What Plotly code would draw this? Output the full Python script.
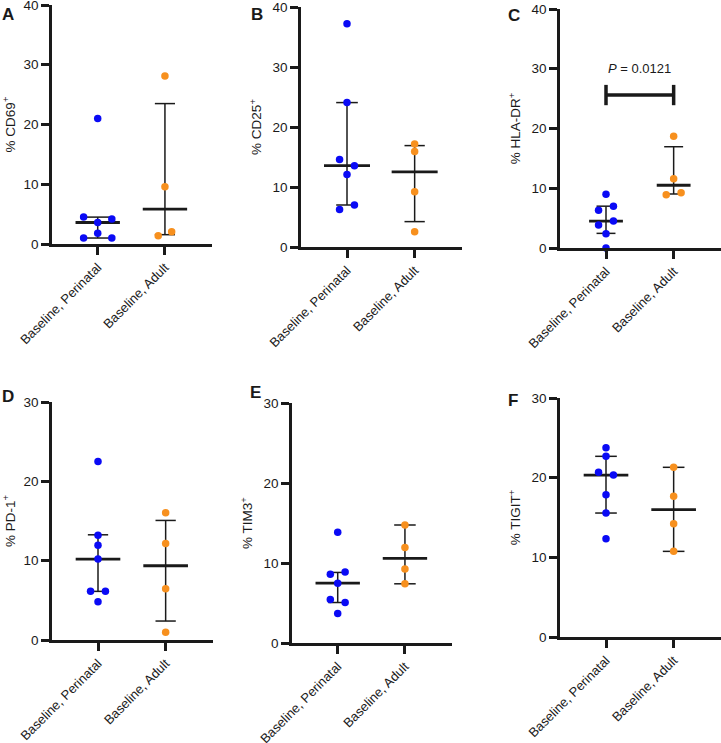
import plotly.graph_objects as go

W, H = 721, 743

# groups on the x axis
groups = ["Baseline, Perinatal", "Baseline, Adult"]

# A - CD69
a_peri = [21.0, 4.5, 4.2, 3.6, 1.8, 1.0, 1.0]
a_peri_dx = [0, -0.21, 0.21, 0, 0, -0.21, 0.21]
a_adult = [28.1, 9.6, 2.05, 1.4]
a_adult_dx = [0, 0, 0.1, -0.1]
a_med, a_lo, a_hi = [3.6, 5.85], [1.0, 1.56], [4.5, 23.5]

# B - CD25
b_peri = [37.2, 24.1, 14.6, 13.55, 12.1, 7.0, 6.25]
b_peri_dx = [0, 0, -0.11, 0.11, 0, 0.11, -0.11]
b_adult = [17.15, 15.9, 9.2, 2.55]
b_adult_dx = [0, 0, 0, 0]
b_med, b_lo, b_hi = [13.55, 12.53], [7.0, 4.23], [24.07, 16.9]

# C - HLA-DR
c_peri = [9.0, 7.0, 6.3, 4.5, 3.85, 2.4, 0.0]
c_peri_dx = [0, 0.11, -0.11, 0.11, -0.11, 0, 0]
c_adult = [18.7, 11.6, 9.26, 8.92]
c_adult_dx = [0, 0, 0.11, -0.11]
c_med, c_lo, c_hi = [4.5, 10.5], [2.45, 9.04], [7.0, 16.95]

# D - PD-1
d_peri = [22.5, 13.2, 11.95, 10.2, 6.13, 6.13, 4.83]
d_peri_dx = [0, 0, 0, 0, -0.11, 0.11, 0]
d_adult = [16.03, 12.17, 6.46, 0.97]
d_adult_dx = [0, 0, 0, 0]
d_med, d_lo, d_hi = [10.2, 9.36], [6.13, 2.39], [13.26, 15.07]

# E - TIM3
e_peri = [13.83, 8.86, 8.6, 7.48, 5.43, 5.06, 3.68]
e_peri_dx = [0, 0.11, -0.11, 0, -0.11, 0.11, 0]
e_adult = [14.75, 11.95, 9.24, 7.4]
e_adult_dx = [0, 0, 0, 0]
e_med, e_lo, e_hi = [7.48, 10.57], [5.06, 7.4], [8.82, 14.75]

# F - TIGIT
f_peri = [23.77, 22.68, 20.67, 20.33, 17.87, 15.56, 12.34]
f_peri_dx = [0, 0, -0.11, 0.11, 0, 0, 0]
f_adult = [21.3, 17.66, 14.23, 10.75]
f_adult_dx = [0, 0, 0, 0]
f_med, f_lo, f_hi = [20.33, 15.98], [15.56, 10.75], [22.68, 21.3]

# significance in C
c_pval = "<i>P</i> = 0.0121"
c_bracket_y = 25.6

BLUE = "#0A0AF5"
ORANGE = "#F7901E"
INK = "#1a1a1a"
FONT = "Arial, Liberation Sans, sans-serif"

# pixel boxes of each plot area: left, right, top, bottom
panels = [
    dict(letter="A", title="% CD69<sup>+</sup>", ymax=40, box=(52, 212, 5, 244), lx=0, ly=3,
         peri=a_peri, pdx=a_peri_dx, adult=a_adult, adx=a_adult_dx, med=a_med, lo=a_lo, hi=a_hi,
         medw=0.33, cap=(0.22, 0.15)),
    dict(letter="B", title="% CD25<sup>+</sup>", ymax=40, box=(301, 462, 7, 247), lx=249, ly=3,
         peri=b_peri, pdx=b_peri_dx, adult=b_adult, adx=b_adult_dx, med=b_med, lo=b_lo, hi=b_hi,
         medw=0.34, cap=(0.16, 0.15)),
    dict(letter="C", title="% HLA-DR<sup>+</sup>", ymax=40, box=(560, 721, 9, 248), lx=506, ly=4,
         peri=c_peri, pdx=c_peri_dx, adult=c_adult, adx=c_adult_dx, med=c_med, lo=c_lo, hi=c_hi,
         medw=0.25, cap=(0.14, 0.14)),
    dict(letter="D", title="% PD-1<sup>+</sup>", ymax=30, box=(52, 213, 402, 640), lx=0, ly=385,
         peri=d_peri, pdx=d_peri_dx, adult=d_adult, adx=d_adult_dx, med=d_med, lo=d_lo, hi=d_hi,
         medw=0.33, cap=(0.15, 0.15)),
    dict(letter="E", title="% TIM3<sup>+</sup>", ymax=30, box=(292, 452, 403, 643), lx=248, ly=381,
         peri=e_peri, pdx=e_peri_dx, adult=e_adult, adx=e_adult_dx, med=e_med, lo=e_lo, hi=e_hi,
         medw=0.33, cap=(0.14, 0.16)),
    dict(letter="F", title="% TIGIT<sup>+</sup>", ymax=30, box=(560, 721, 398, 637), lx=506, ly=389,
         peri=f_peri, pdx=f_peri_dx, adult=f_adult, adx=f_adult_dx, med=f_med, lo=f_lo, hi=f_hi,
         medw=0.33, cap=(0.16, 0.16)),
]

fig = go.Figure()
layout = {}
annotations = []

for k, p in enumerate(panels):
    n = "" if k == 0 else str(k + 1)
    xr, yr = "x" + n, "y" + n
    l, r, t, b = p["box"]
    layout["xaxis" + n] = dict(
        domain=[l / W, r / W], anchor=yr, range=[-0.68, 1.7], automargin=False,
        tickvals=[0, 1], ticktext=groups, tickangle=-45, ticklabeloverflow="allow",
        showline=True, linewidth=2.5, linecolor=INK, ticks="outside", ticklen=8,
        tickwidth=2.5, tickcolor=INK, showgrid=False, zeroline=False,
        tickfont=dict(size=13, color=INK, family=FONT),
    )
    layout["yaxis" + n] = dict(
        domain=[1 - b / H, 1 - t / H], anchor=xr, range=[0, p["ymax"]], dtick=10,
        automargin=False, ticklabeloverflow="allow",
        showline=True, linewidth=2.5, linecolor=INK, ticks="outside", ticklen=8,
        tickwidth=2.5, tickcolor=INK, showgrid=False, zeroline=False,
        tickfont=dict(size=13.5, color=INK, family=FONT),
        title=dict(text=p["title"], font=dict(size=13.5, color=INK, family=FONT), standoff=8),
    )

    # whiskers (interquartile range) and median lines
    wx, wy, mx, my = [], [], [], []
    for i in range(2):
        c = p["cap"][i]
        wx += [i, i, None, i - c, i + c, None, i - c, i + c, None]
        wy += [p["lo"][i], p["hi"][i], None, p["lo"][i], p["lo"][i], None, p["hi"][i], p["hi"][i], None]
        mx += [i - p["medw"], i + p["medw"], None]
        my += [p["med"][i], p["med"][i], None]
    fig.add_trace(go.Scatter(x=wx, y=wy, xaxis=xr, yaxis=yr, mode="lines",
                             line=dict(color=INK, width=1.5), showlegend=False, hoverinfo="skip"))
    fig.add_trace(go.Scatter(x=mx, y=my, xaxis=xr, yaxis=yr, mode="lines",
                             line=dict(color=INK, width=2.8), showlegend=False, hoverinfo="skip"))

    # points
    fig.add_trace(go.Scatter(x=[0 + d for d in p["pdx"]], y=p["peri"], xaxis=xr, yaxis=yr,
                             mode="markers", marker=dict(color=BLUE, size=7.5, line=dict(width=0)),
                             showlegend=False, cliponaxis=False))
    fig.add_trace(go.Scatter(x=[1 + d for d in p["adx"]], y=p["adult"], xaxis=xr, yaxis=yr,
                             mode="markers", marker=dict(color=ORANGE, size=7.5, line=dict(width=0)),
                             showlegend=False, cliponaxis=False))

    annotations.append(dict(text="<b>%s</b>" % p["letter"], x=p["lx"] / W, y=1 - p["ly"] / H,
                            xref="paper", yref="paper", xanchor="left", yanchor="top",
                            showarrow=False, font=dict(size=17, color=INK, family=FONT)))

    if p["letter"] == "C":
        bx = [0, 0, None, 0, 1, None, 1, 1]
        by = [c_bracket_y - 1.7, c_bracket_y + 1.7, None, c_bracket_y, c_bracket_y, None,
              c_bracket_y - 1.7, c_bracket_y + 1.7]
        fig.add_trace(go.Scatter(x=bx, y=by, xaxis=xr, yaxis=yr, mode="lines",
                                 line=dict(color=INK, width=3.5), showlegend=False, hoverinfo="skip"))
        annotations.append(dict(text=c_pval, x=0.5, y=c_bracket_y + 4.5, xref=xr, yref=yr,
                                showarrow=False, font=dict(size=13, color=INK, family=FONT)))

fig.update_layout(
    width=W, height=H, margin=dict(l=0, r=0, t=0, b=0),
    paper_bgcolor="white", plot_bgcolor="white",
    font=dict(family=FONT, color=INK),
    annotations=annotations, showlegend=False,
    **layout,
)

# page body has an 8px default margin; drop it so the figure sits at the window corner
fig.write_html("out.html", config={"displayModeBar": False},
               post_script="document.body.style.margin='0';")
